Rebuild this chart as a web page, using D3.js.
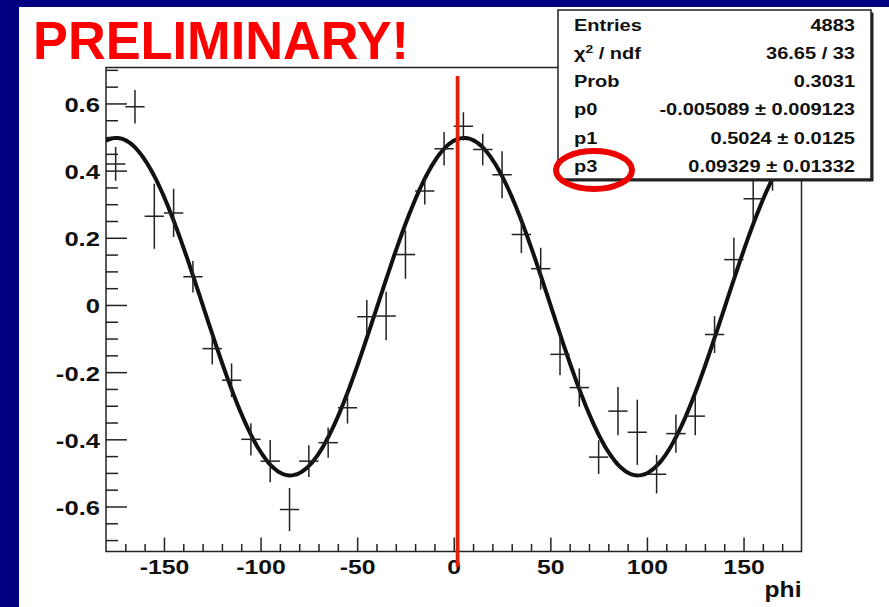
<!DOCTYPE html>
<html>
<head>
<meta charset="utf-8">
<script src="https://cdn.jsdelivr.net/npm/d3@7"></script>
<style>
  html, body { margin: 0; padding: 0; background: #fff; }
  svg { display: block; }
  text { font-family: "Liberation Sans", Arial, Helvetica, sans-serif; font-weight: bold; }
</style>
</head>
<body>
<svg id="chart" width="889" height="607"></svg>
<script>
// Azimuthal asymmetry vs phi: 10-degree bins, bin content and error
const binCenters = [-175, -165, -155, -145, -135, -125, -115, -105, -95, -85,
                    -75, -65, -55, -45, -35, -25, -15, -5, 5, 15,
                    25, 35, 45, 55, 65, 75, 85, 95, 105, 115,
                    125, 135, 145, 155, 165, 175];
const binValues = [0.42, 0.59, 0.264, 0.274, 0.084, -0.130, -0.224, -0.400, -0.465, -0.609,
                   -0.465, -0.410, -0.306, -0.035, -0.033, 0.150, 0.339, 0.465, 0.532, 0.463,
                   0.388, 0.210, 0.108, -0.147, -0.246, -0.453, -0.316, -0.379, -0.504, -0.383,
                   -0.331, -0.088, 0.135, 0.316, 0.40, 0.47];
const binErrors = [0.05, 0.05, 0.097, 0.072, 0.047, 0.047, 0.05, 0.048, 0.063, 0.064,
                   0.047, 0.045, 0.047, 0.05, 0.072, 0.072, 0.04, 0.05, 0.042, 0.047,
                   0.07, 0.055, 0.062, 0.062, 0.057, 0.05, 0.072, 0.097, 0.057, 0.057,
                   0.057, 0.055, 0.065, 0.065, 0.06, 0.06];
const binHalfWidth = 5;

// Fit parameters: p0 + p1*cos(2*(phi - p3))
const p0 = -0.005089, p1 = 0.5024, p3 = 0.09329;

const xTickLabels = [-150, -100, -50, 0, 50, 100, 150];
const yTickLabels = [-0.6, -0.4, -0.2, 0, 0.2, 0.4, 0.6];
const markerPhi = 2;

const statLabels = ["Entries", "chi2", "Prob", "p0", "p1", "p3"];
const statValues = ["4883", "36.65 / 33", "0.3031",
                    "-0.005089 \u00b1 0.009123", "0.5024 \u00b1 0.0125", "0.09329 \u00b1 0.01332"];

const svg = d3.select("#chart");
const W = 889, H = 607;

// page background: navy border on left and top
svg.append("rect").attr("width", W).attr("height", H).attr("fill", "#000080");
svg.append("rect").attr("x", 19).attr("y", 7).attr("width", W - 19).attr("height", H - 7).attr("fill", "#fff");

const plot = { left: 106, right: 801.5, top: 67.5, bottom: 551.5 };
const x = d3.scaleLinear().domain([-180, 180]).range([plot.left, plot.right]);
const y = d3.scaleLinear().domain([-0.734, 0.707]).range([plot.bottom, plot.top]);

// widen glyphs horizontally, like the stretched ROOT canvas text
function widen(sel, factor) {
  sel.each(function () {
    const n = this.getComputedTextLength();
    d3.select(this).attr("textLength", n * factor).attr("lengthAdjust", "spacingAndGlyphs");
  });
}

svg.append("defs").append("clipPath").attr("id", "plotclip")
  .append("rect").attr("x", plot.left).attr("y", plot.top)
  .attr("width", plot.right - plot.left).attr("height", plot.bottom - plot.top);

// frame
svg.append("rect").attr("x", plot.left).attr("y", plot.top)
  .attr("width", plot.right - plot.left).attr("height", plot.bottom - plot.top)
  .attr("fill", "none").attr("stroke", "#222").attr("stroke-width", 1.5);

// y axis: major + minor ticks pointing inward
const yMinor = d3.range(-14, 15).map(k => k * 0.05).filter(v => Math.abs(v * 5 - Math.round(v * 5)) > 1e-6);
const yMinorAxis = svg.append("g").attr("transform", `translate(${plot.left},0)`)
  .call(d3.axisLeft(y).tickValues(yMinor).tickSize(-12).tickFormat(""));
const yAxis = svg.append("g").attr("transform", `translate(${plot.left},0)`)
  .call(d3.axisLeft(y).tickValues(yTickLabels).tickSize(-21).tickPadding(6)
    .tickFormat(d => d === 0 ? "0" : d.toFixed(1)));

// x axis
const xMinor = d3.range(-170, 171, 10).filter(v => v % 50 !== 0);
const xMinorAxis = svg.append("g").attr("transform", `translate(0,${plot.bottom})`)
  .call(d3.axisBottom(x).tickValues(xMinor).tickSize(-7.5).tickFormat(""));
const xAxis = svg.append("g").attr("transform", `translate(0,${plot.bottom})`)
  .call(d3.axisBottom(x).tickValues(xTickLabels).tickSize(-14).tickPadding(8).tickFormat(d => String(d)));

[yMinorAxis, yAxis, xMinorAxis, xAxis].forEach(g => {
  g.select(".domain").remove();
  g.selectAll(".tick line").attr("stroke", "#222").attr("stroke-width", 1.5);
});
yAxis.selectAll("text").attr("font-size", 21).attr("fill", "#111").attr("dy", "0.38em")
  .style("font-family", "Liberation Sans, Arial, sans-serif").style("font-weight", "bold");
xAxis.selectAll("text").attr("font-size", 21).attr("fill", "#111").attr("dy", "0.71em")
  .style("font-family", "Liberation Sans, Arial, sans-serif").style("font-weight", "bold");
widen(yAxis.selectAll("text"), 1.22);
widen(xAxis.selectAll("text"), 1.18);

// x axis title
const xt = svg.append("text").attr("x", plot.right).attr("y", 597).attr("text-anchor", "end")
  .attr("font-size", 22).attr("fill", "#111").text("phi");
widen(xt, 1.12);

const inner = svg.append("g").attr("clip-path", "url(#plotclip)");

// fit function curve
const fitPts = d3.range(-180, 180.01, 1).map(phi => [phi, p0 + p1 * Math.cos(2 * (phi * Math.PI / 180 - p3))]);
inner.append("path").datum(fitPts)
  .attr("d", d3.line().x(d => x(d[0])).y(d => y(d[1])).curve(d3.curveMonotoneX))
  .attr("fill", "none").attr("stroke", "#111").attr("stroke-width", 4);

// data points with error crosses
const pts = inner.append("g").attr("stroke", "#222").attr("stroke-width", 1.5);
binCenters.forEach((c, i) => {
  const v = binValues[i], e = binErrors[i];
  pts.append("line").attr("x1", x(c - binHalfWidth)).attr("x2", x(c + binHalfWidth))
    .attr("y1", y(v)).attr("y2", y(v));
  pts.append("line").attr("x1", x(c)).attr("x2", x(c))
    .attr("y1", y(v - e)).attr("y2", y(v + e));
});

// vertical marker at phi ~ 0
svg.append("line").attr("x1", x(markerPhi)).attr("x2", x(markerPhi))
  .attr("y1", 76).attr("y2", 567)
  .attr("stroke", "#e3220a").attr("stroke-width", 3.8);

// statistics box
const box = { x: 558, y: 10, w: 313, h: 169 };
svg.append("rect").attr("x", box.x + 2.5).attr("y", box.y + 2.5).attr("width", box.w).attr("height", box.h)
  .attr("fill", "#222");
svg.append("rect").attr("x", box.x).attr("y", box.y).attr("width", box.w).attr("height", box.h)
  .attr("fill", "#fff").attr("stroke", "#222").attr("stroke-width", 1.5);

const rowBase = 30.7, rowStep = 28.2;
statLabels.forEach((lab, i) => {
  const t = svg.append("text").attr("x", 574).attr("y", rowBase + i * rowStep)
    .attr("font-size", 16).attr("fill", "#111");
  if (lab === "chi2") {
    t.append("tspan").text("\u03c7");
    t.append("tspan").attr("font-size", 11).attr("dy", -6).text("2");
    t.append("tspan").attr("dy", 6).text(" / ndf");
  } else {
    t.text(lab);
  }
  widen(t, 1.25);
  const v = svg.append("text").attr("x", 855).attr("y", rowBase + i * rowStep)
    .attr("text-anchor", "end").attr("font-size", 16).attr("fill", "#111").text(statValues[i]);
  widen(v, 1.25);
});

// highlight ring around p3
svg.append("ellipse").attr("cx", 594).attr("cy", 170).attr("rx", 38).attr("ry", 19)
  .attr("fill", "none").attr("stroke", "#ee0000").attr("stroke-width", 6);

// banner
svg.append("text").attr("x", 33).attr("y", 59).attr("font-size", 53).attr("fill", "#ff0000")
  .attr("textLength", 376).attr("lengthAdjust", "spacingAndGlyphs").text("PRELIMINARY!");
</script>
</body>
</html>
